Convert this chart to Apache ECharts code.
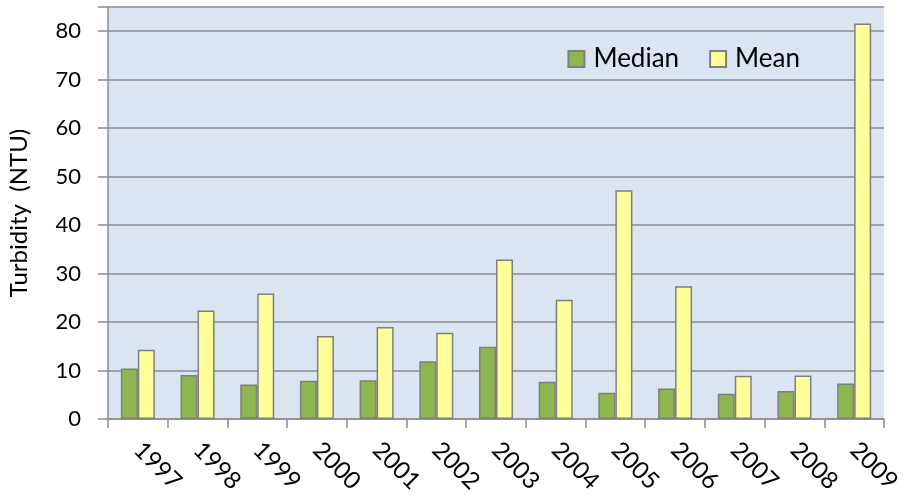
<!DOCTYPE html>
<html>
<head>
<meta charset="utf-8">
<script src="https://cdn.jsdelivr.net/npm/echarts@6/dist/echarts.min.js"></script>
<style>
  html, body { margin: 0; padding: 0; background: #fff; }
  #chart { width: 911px; height: 498px; }
</style>
</head>
<body>
<div id="chart"></div>
<script>
const years = ['1997', '1998', '1999', '2000', '2001', '2002', '2003', '2004', '2005', '2006', '2007', '2008', '2009'];
const medianValues = [10.4, 9.1, 7.1, 7.9, 8.0, 11.9, 14.9, 7.7, 5.4, 6.3, 5.2, 5.8, 7.3];
const meanValues = [14.3, 22.4, 25.9, 17.1, 19.0, 17.8, 32.9, 24.6, 47.2, 27.4, 8.9, 9.0, 81.6];
const yTicks = [0, 10, 20, 30, 40, 50, 60, 70, 80];

const chart = echarts.init(document.getElementById('chart'));
const font = 'Lato, "Open Sans", sans-serif';

const option = {
  animation: false,
  textStyle: { fontFamily: font },
  grid: {
    left: 108, right: 27, top: 7, bottom: 79,
    outerBoundsMode: 'none',
    containLabel: false,
    show: true, backgroundColor: '#dbe5f1', borderWidth: 0
  },
  legend: {
    right: 106, top: 41,
    icon: 'rect',
    itemWidth: 16, itemHeight: 16, itemGap: 30,
    textStyle: { fontSize: 26, color: '#000', fontFamily: font, padding: [0, 0, 0, 4] },
    data: ['Median', 'Mean']
  },
  xAxis: {
    type: 'category',
    data: years,
    axisLine: { lineStyle: { color: '#8c8c8c', width: 1.5 } },
    axisTick: { show: true, length: 9, lineStyle: { color: '#8c8c8c', width: 1.5 } },
    axisLabel: { rotate: -45, fontSize: 24, color: '#000', margin: 27, fontFamily: font }
  },
  yAxis: {
    type: 'value',
    min: 0, max: 85, interval: 10,
    name: 'Turbidity  (NTU)',
    nameLocation: 'middle',
    nameGap: 77,
    nameTextStyle: { fontSize: 24, color: '#000', fontFamily: font },
    axisLine: { show: true, lineStyle: { color: '#8c8c8c', width: 1.5 } },
    axisTick: { show: true, length: 10, lineStyle: { color: '#8c8c8c', width: 1.5 } },
    axisLabel: {
      fontSize: 22, color: '#000', margin: 27, fontFamily: font,
      formatter: v => yTicks.includes(v) ? String(v) : ''
    },
    splitLine: { lineStyle: { color: '#8c8c8c', width: 1.5 } }
  },
  series: [
    {
      name: 'Median', type: 'bar', data: medianValues,
      barWidth: 17, barGap: '0%',
      itemStyle: { color: '#8db64f', borderColor: '#7f7f7f', borderWidth: 1.5 }
    },
    {
      name: 'Mean', type: 'bar', data: meanValues,
      barWidth: 17,
      itemStyle: { color: '#ffff99', borderColor: '#7f7f7f', borderWidth: 1.5 }
    }
  ]
};
chart.setOption(option);
</script>
</body>
</html>
